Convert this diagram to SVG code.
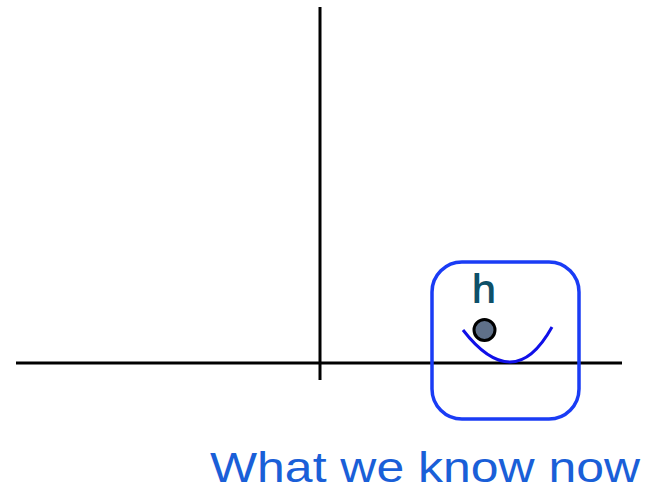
<svg xmlns="http://www.w3.org/2000/svg" width="645" height="492" viewBox="0 0 645 492">
<style>
.axis{stroke:#000;stroke-width:3;fill:none}
.box{stroke:#1a3cf5;stroke-width:3.5;fill:none}
.curve{stroke:#1010e8;stroke-width:3;fill:none}
.lbl{font-family:"Open Sans","Liberation Sans",sans-serif;fill:#0e5068;font-size:40px;font-weight:600}
.title{font-family:"Liberation Sans",sans-serif;fill:#1a5fd8;font-size:42px}
</style>
<rect width="645" height="492" fill="#fff"/>
<g id="axes">
<line class="axis" x1="320" y1="7" x2="320" y2="380"/>
<line class="axis" x1="16" y1="363" x2="622" y2="363"/>
</g>
<g id="box">
<rect class="box" x="432" y="262" width="147" height="157" rx="30" ry="30"/>
</g>
<g id="curve">
<path class="curve" d="M463,330 C480,352 495,362 510,362 C528,362 542,345 552,327"/>
</g>
<g id="point">
<circle cx="484.5" cy="330" r="10.5" fill="#5f7089" stroke="#000" stroke-width="3"/>
</g>
<text class="lbl" x="484" y="303" text-anchor="middle">h</text>
<text class="title" x="210" y="482" textLength="430" lengthAdjust="spacingAndGlyphs">What we know now</text>
</svg>
